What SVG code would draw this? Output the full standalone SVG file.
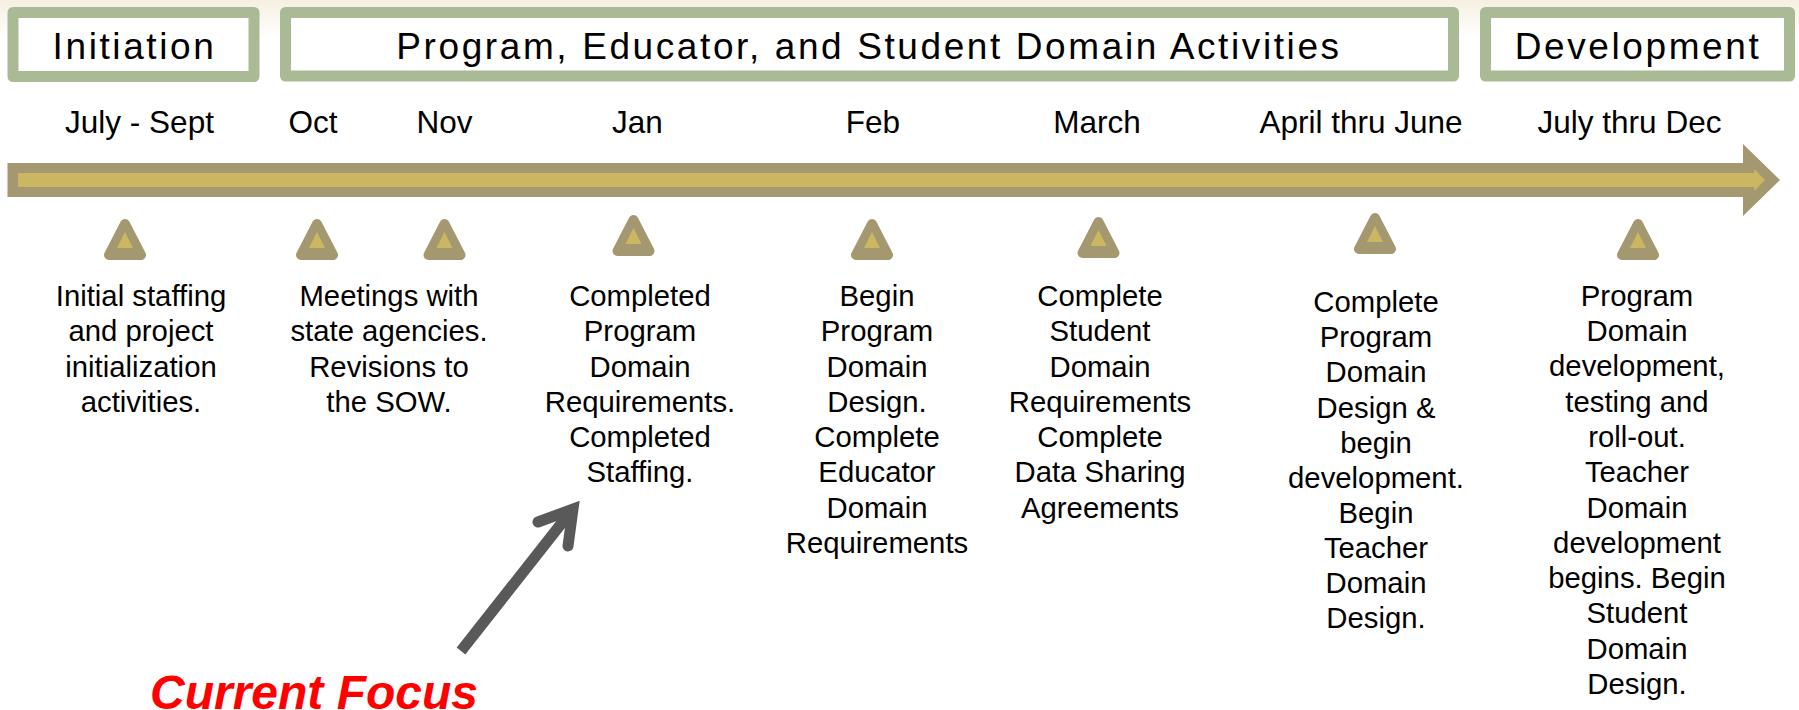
<svg xmlns="http://www.w3.org/2000/svg" width="1799" height="710" viewBox="0 0 1799 710">
<style>
text{font-family:"Liberation Sans",Arial,sans-serif;fill:#000}
.h{font-size:37px;letter-spacing:2.6px;text-anchor:middle}
.m{font-size:29.3px;text-anchor:middle}
.d{font-size:31.5px;text-anchor:middle}
.box{fill:#fff;stroke:#a9ba95;stroke-width:11;stroke-linejoin:round}
.o{fill:#a49870;stroke:#a49870;stroke-width:10;stroke-linejoin:round}
.i{fill:#cbb662}
</style>
<defs>
<linearGradient id="bg" x1="0" y1="0" x2="0" y2="1"><stop offset="0" stop-color="#f5f0e1"/><stop offset="1" stop-color="#fff"/></linearGradient>
<g id="tri"><polygon class="o" points="0,-16 16,15 -16,15"/><polygon class="i" points="0,-8 8,8 -8,8"/></g>
</defs>
<rect width="1799" height="710" fill="#fff"/>
<rect width="1799" height="40" fill="url(#bg)"/>
<g id="node-initiation"><rect class="box" x="13" y="12.500" width="241" height="64"/><text class="h" x="134.500" y="59">Initiation</text></g>
<g id="node-activities"><rect class="box" x="285.500" y="12.500" width="1168" height="63.500"/><text class="h" x="869" y="59">Program, Educator, and Student Domain Activities</text></g>
<g id="node-development"><rect class="box" x="1485.500" y="12.500" width="304" height="63.500"/><text class="h" x="1638" y="59">Development</text></g>
<g id="timeline"><polygon fill="#a49870" points="7.500,163 1743,163 1743,144 1780,180 1743,216 1743,197 7.500,197"/><polygon class="i" points="18,173 1754,173 1754,169 1765,180 1754,191 1754,187 18,187"/></g>
<g id="months">
<text class="d" x="139.500" y="133">July - Sept</text>
<text class="d" x="313" y="133">Oct</text>
<text class="d" x="444.500" y="133">Nov</text>
<text class="d" x="637.500" y="133">Jan</text>
<text class="d" x="873" y="133">Feb</text>
<text class="d" x="1097" y="133">March</text>
<text class="d" x="1361" y="133">April thru June</text>
<text class="d" x="1629.500" y="133">July thru Dec</text>
</g>
<g id="marker-1"><use href="#tri" x="125" y="240"/></g>
<g id="marker-2"><use href="#tri" x="317" y="240"/></g>
<g id="marker-3"><use href="#tri" x="444.500" y="240"/></g>
<g id="marker-4"><use href="#tri" x="633.500" y="236"/></g>
<g id="marker-5"><use href="#tri" x="872" y="240"/></g>
<g id="marker-6"><use href="#tri" x="1098.500" y="238"/></g>
<g id="marker-7"><use href="#tri" x="1375" y="234"/></g>
<g id="marker-8"><use href="#tri" x="1638" y="240"/></g>
<g id="note-1"><text class="m" x="141" y="306">Initial staffing</text><text class="m" x="141" y="341">and project</text><text class="m" x="141" y="377">initialization</text><text class="m" x="141" y="412">activities.</text></g>
<g id="note-2"><text class="m" x="389" y="306">Meetings with</text><text class="m" x="389" y="341">state agencies.</text><text class="m" x="389" y="377">Revisions to</text><text class="m" x="389" y="412">the SOW.</text></g>
<g id="note-3"><text class="m" x="640" y="306">Completed</text><text class="m" x="640" y="341">Program</text><text class="m" x="640" y="377">Domain</text><text class="m" x="640" y="412">Requirements.</text><text class="m" x="640" y="447">Completed</text><text class="m" x="640" y="482">Staffing.</text></g>
<g id="note-4"><text class="m" x="877" y="306">Begin</text><text class="m" x="877" y="341">Program</text><text class="m" x="877" y="377">Domain</text><text class="m" x="877" y="412">Design.</text><text class="m" x="877" y="447">Complete</text><text class="m" x="877" y="482">Educator</text><text class="m" x="877" y="518">Domain</text><text class="m" x="877" y="553">Requirements</text></g>
<g id="note-5"><text class="m" x="1100" y="306">Complete</text><text class="m" x="1100" y="341">Student</text><text class="m" x="1100" y="377">Domain</text><text class="m" x="1100" y="412">Requirements</text><text class="m" x="1100" y="447">Complete</text><text class="m" x="1100" y="482">Data Sharing</text><text class="m" x="1100" y="518">Agreements</text></g>
<g id="note-6"><text class="m" x="1376" y="312">Complete</text><text class="m" x="1376" y="347">Program</text><text class="m" x="1376" y="382">Domain</text><text class="m" x="1376" y="418">Design &amp;</text><text class="m" x="1376" y="453">begin</text><text class="m" x="1376" y="488">development.</text><text class="m" x="1376" y="523">Begin</text><text class="m" x="1376" y="558">Teacher</text><text class="m" x="1376" y="593">Domain</text><text class="m" x="1376" y="628">Design.</text></g>
<g id="note-7"><text class="m" x="1637" y="306">Program</text><text class="m" x="1637" y="341">Domain</text><text class="m" x="1637" y="376">development,</text><text class="m" x="1637" y="412">testing and</text><text class="m" x="1637" y="447">roll-out.</text><text class="m" x="1637" y="482">Teacher</text><text class="m" x="1637" y="518">Domain</text><text class="m" x="1637" y="553">development</text><text class="m" x="1637" y="588">begins. Begin</text><text class="m" x="1637" y="623">Student</text><text class="m" x="1637" y="659">Domain</text><text class="m" x="1637" y="694">Design.</text></g>
<g id="connectors"><path d="M461,651 L572,510" fill="none" stroke="#595959" stroke-width="11"/><path d="M538,522 L573,509 L568,546" fill="none" stroke="#595959" stroke-width="11" stroke-linecap="round" stroke-miterlimit="10"/></g>
<g id="focus"><text x="150" y="709" font-size="48" font-weight="bold" font-style="italic" style="fill:#f00">Current Focus</text></g>
</svg>
